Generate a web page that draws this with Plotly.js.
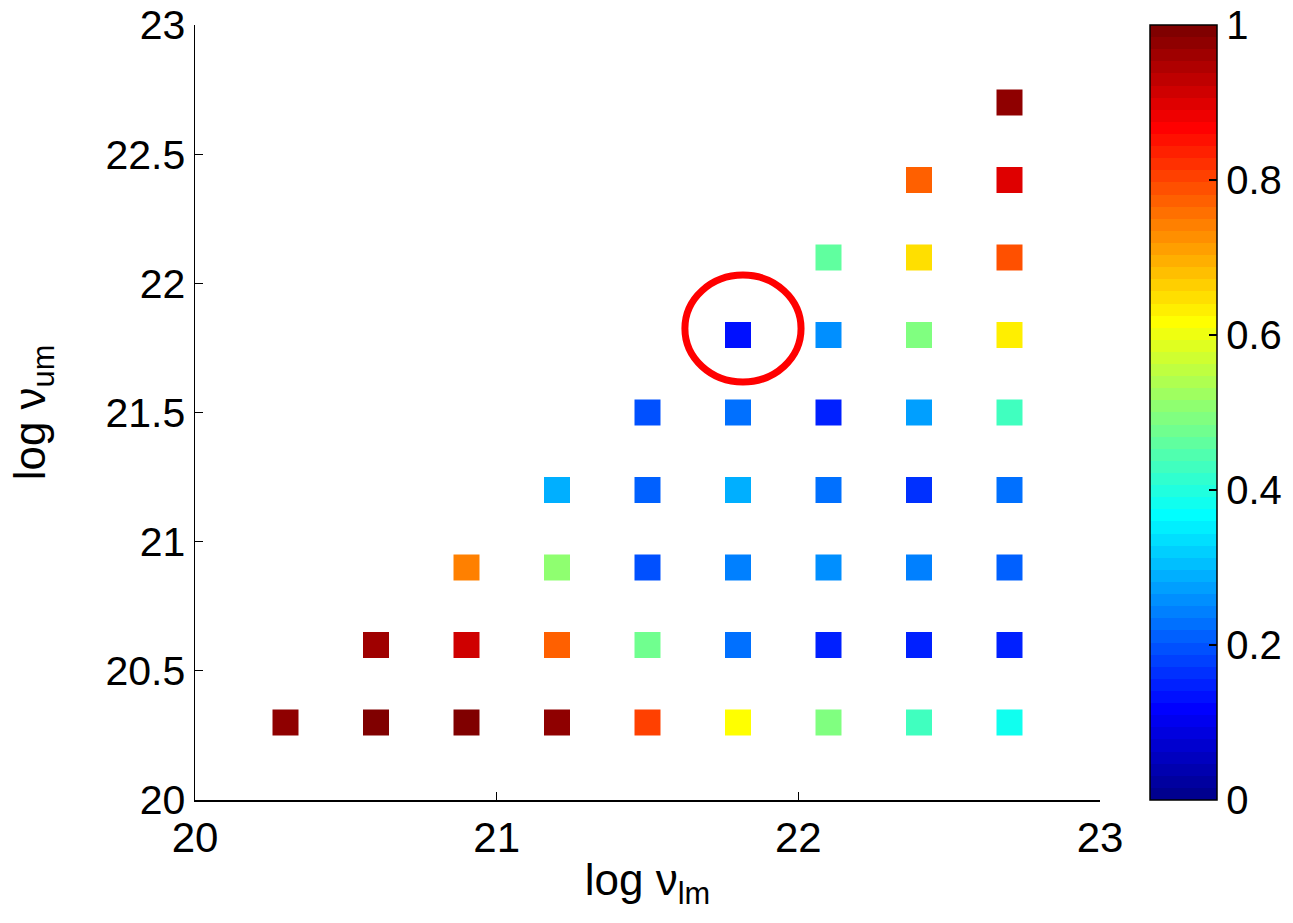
<!DOCTYPE html>
<html>
<head>
<meta charset="utf-8">
<script src="https://cdn.plot.ly/plotly-3.0.1.min.js"></script>
<style>html,body{margin:0;padding:0;background:#fff;}#chart{width:1293px;height:923px;}</style>
</head>
<body>
<div id="chart"></div>
<script>
// log nu_lm (x) for each square
var lmValues = [
  20.3, 20.6, 20.9, 21.2, 21.5, 21.8, 22.1, 22.4, 22.7,
  20.6, 20.9, 21.2, 21.5, 21.8, 22.1, 22.4, 22.7,
  20.9, 21.2, 21.5, 21.8, 22.1, 22.4, 22.7,
  21.2, 21.5, 21.8, 22.1, 22.4, 22.7,
  21.5, 21.8, 22.1, 22.4, 22.7,
  21.8, 22.1, 22.4, 22.7,
  22.1, 22.4, 22.7,
  22.4, 22.7,
  22.7
];
// log nu_um (y) for each square
var umValues = [
  20.3, 20.3, 20.3, 20.3, 20.3, 20.3, 20.3, 20.3, 20.3,
  20.6, 20.6, 20.6, 20.6, 20.6, 20.6, 20.6, 20.6,
  20.9, 20.9, 20.9, 20.9, 20.9, 20.9, 20.9,
  21.2, 21.2, 21.2, 21.2, 21.2, 21.2,
  21.5, 21.5, 21.5, 21.5, 21.5,
  21.8, 21.8, 21.8, 21.8,
  22.1, 22.1, 22.1,
  22.4, 22.4,
  22.7
];
// colour value of each square
var cValues = [
  0.98, 1.00, 1.00, 0.97, 0.80, 0.61, 0.485, 0.425, 0.375,
  0.955, 0.92, 0.78, 0.47, 0.22, 0.155, 0.155, 0.155,
  0.74, 0.50, 0.19, 0.235, 0.265, 0.235, 0.205,
  0.295, 0.205, 0.295, 0.22, 0.17, 0.22,
  0.19, 0.22, 0.148, 0.28, 0.425,
  0.14, 0.265, 0.485, 0.625,
  0.455, 0.655, 0.795,
  0.78, 0.905,
  0.97
];
var axisTicks = [20, 21, 22, 23];
var yTicks = [20, 20.5, 21, 21.5, 22, 22.5, 23];
var yTickText = ['20', '20.5', '21', '21.5', '22', '22.5', '23'];
var cbTicks = [0, 0.2, 0.4, 0.6, 0.8, 1];
var cbTickText = ['0', '0.2', '0.4', '0.6', '0.8', '1'];
var highlight = {x0: 21.624, x1: 22.009, y0: 21.618, y1: 22.032};

// MATLAB-like jet(64) colormap (style only)
function clamp(a){return Math.max(0, Math.min(1, a));}
function jet(v){
  var r = clamp(Math.min(4*v-1.5, -4*v+4.5));
  var g = clamp(Math.min(4*v-0.5, -4*v+3.5));
  var b = clamp(Math.min(4*v+0.5, -4*v+2.5));
  return 'rgb(' + Math.round(r*255) + ',' + Math.round(g*255) + ',' + Math.round(b*255) + ')';
}
var N = 64, jetScale = [];
for (var i = 0; i < N; i++) {
  var c = jet((i+1)/N);
  jetScale.push([i/N, c]);
  jetScale.push([(i+1)/N, c]);
}

var font = 'Liberation Sans, Arial, Helvetica, sans-serif';

var trace = {
  type: 'scatter',
  mode: 'markers',
  x: lmValues,
  y: umValues,
  marker: {
    symbol: 'square',
    size: 26,
    color: cValues,
    cmin: 0,
    cmax: 1,
    colorscale: jetScale,
    line: {width: 0},
    showscale: true,
    colorbar: {
      thickness: 67,
      thicknessmode: 'pixels',
      len: 775,
      lenmode: 'pixels',
      x: 1.0552,
      xanchor: 'left',
      y: 1,
      yanchor: 'top',
      xpad: 0,
      ypad: 0,
      outlinewidth: 1.5,
      outlinecolor: '#000',
      ticks: 'inside',
      ticklen: 8,
      tickwidth: 1.2,
      tickcolor: '#000',
      tickvals: cbTicks,
      ticktext: cbTickText,
      tickfont: {family: font, size: 40, color: '#000'}
    }
  },
  hoverinfo: 'x+y'
};

var layout = {
  width: 1293,
  height: 923,
  margin: {l: 195, r: 193, t: 25, b: 123, autoexpand: false},
  paper_bgcolor: '#fff',
  plot_bgcolor: '#fff',
  showlegend: false,
  xaxis: {
    range: [20, 23],
    tickvals: axisTicks,
    ticktext: axisTicks.map(String),
    showgrid: false,
    zeroline: false,
    showline: true,
    linecolor: '#000',
    linewidth: 1.5,
    ticks: 'inside',
    ticklen: 8,
    tickwidth: 1.2,
    tickcolor: '#000',
    tickfont: {family: font, size: 42, color: '#000'},
    title: {text: 'log ν<sub>lm</sub>', font: {family: font, size: 44, color: '#000'}, standoff: 4}
  },
  yaxis: {
    range: [20, 23],
    tickvals: yTicks,
    ticktext: yTickText,
    showgrid: false,
    zeroline: false,
    showline: true,
    linecolor: '#000',
    linewidth: 1.5,
    ticks: 'inside',
    ticklen: 8,
    tickwidth: 1.2,
    tickcolor: '#000',
    tickfont: {family: font, size: 41, color: '#000'},
    title: {text: 'log ν<sub>um</sub>', font: {family: font, size: 44, color: '#000'}, standoff: 46}
  },
  shapes: [{
    type: 'circle',
    xref: 'x', yref: 'y',
    x0: highlight.x0, x1: highlight.x1,
    y0: highlight.y0, y1: highlight.y1,
    line: {color: '#ff0000', width: 7}
  }]
};

Plotly.newPlot('chart', [trace], layout, {displayModeBar: false, staticPlot: true});
</script>
</body>
</html>
